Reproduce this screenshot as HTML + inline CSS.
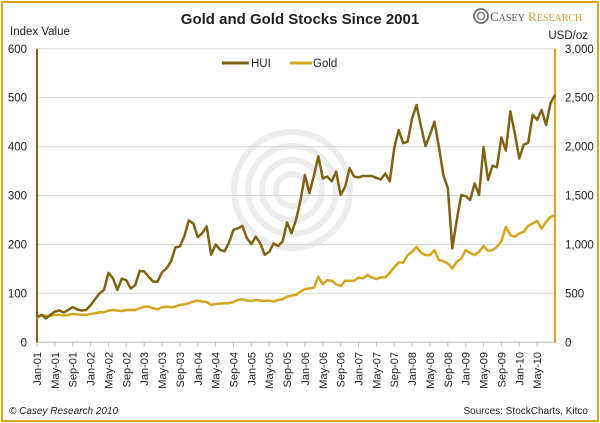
<!DOCTYPE html>
<html><head><meta charset="utf-8"><style>
body{margin:0;background:#fff}
#wrap{position:relative;width:600px;height:423px;overflow:hidden;font-family:"Liberation Sans",sans-serif}
#frame{position:absolute;left:1px;top:1px;width:594px;height:417px;border:2px solid #d4a520}
svg{position:absolute;left:0;top:0;font-family:"Liberation Sans",sans-serif}
</style></head><body>
<div id="wrap">
<div id="frame"></div>
<svg id="c" width="600" height="423"></svg>
<svg width="600" height="423" style="pointer-events:none">
<text x="300" y="24" text-anchor="middle" font-size="15" font-weight="bold" fill="#222">Gold and Gold Stocks Since 2001</text>
<g>
<circle cx="481" cy="16" r="7" fill="none" stroke="#777" stroke-width="2"/><circle cx="481" cy="16" r="3.5" fill="none" stroke="#777" stroke-width="1.5"/>
<text x="490" y="21" font-family="Liberation Serif,serif" font-size="13" fill="#555">C<tspan font-size="10">ASEY</tspan> <tspan fill="#c8a032">R</tspan><tspan fill="#c8a032" font-size="10">ESEARCH</tspan></text>
</g>
<text x="10" y="35" font-size="11.5" fill="#222">Index Value</text>
<text x="588" y="39" text-anchor="end" font-size="11.5" fill="#222">USD/oz</text>
<g><line x1="222" x2="249" y1="63" y2="63" stroke="#7f6315" stroke-width="3"/><text x="251" y="67" font-size="11.5" fill="#222">HUI</text></g>
<g><line x1="290" x2="312" y1="63" y2="63" stroke="#d4a520" stroke-width="3"/><text x="313" y="67" font-size="11.5" fill="#222">Gold</text></g>
<text x="9" y="414" font-size="10" font-style="italic" fill="#222">© Casey Research 2010</text>
<text x="588" y="414" text-anchor="end" font-size="10" fill="#222">Sources: StockCharts, Kitco</text>
</svg>
</div>
<script>
const hui=[52,56,49,56,63,65,61,66,72,67,65,66,76,88,100,107,142,131,107,130,127,110,117,146,145,134,124,124,143,151,165,194,196,217,249,243,215,223,237,179,200,189,186,204,230,233,238,213,201,216,202,179,185,202,197,206,245,223,250,290,342,305,340,380,335,339,329,349,301,318,356,339,337,340,340,340,336,333,345,329,397,434,407,410,458,485,441,401,424,451,400,342,315,192,250,301,299,291,325,301,399,332,361,358,419,392,472,427,376,404,408,465,455,475,444,489,506];
const gold=[245,280,270,270,280,280,273,280,290,286,280,280,290,297,307,307,324,330,324,320,330,330,330,348,365,365,348,337,358,365,358,365,382,389,399,416,426,416,412,382,392,395,399,399,412,433,440,426,423,433,426,423,426,416,433,440,467,477,484,518,545,551,558,670,592,636,629,592,575,629,629,629,663,653,687,663,646,663,663,711,765,816,813,891,925,976,915,891,891,942,840,830,806,755,823,857,942,915,891,925,983,935,942,976,1034,1180,1095,1078,1112,1129,1190,1214,1241,1163,1231,1282,1299];
const leftTicks=[0,100,200,300,400,500,600];
const rightTicks=["0","500","1,000","1,500","2,000","2,500","3,000"];
const monthNames=["Jan","May","Sep"];
const svg=document.getElementById('c');const NS='http://www.w3.org/2000/svg';
const X0=37,X1=555,Y0=342.3,Y1=48.8;
const xs=i=>X0+i*(X1-X0)/(hui.length-1);
const yl=v=>Y0-v*(Y0-Y1)/600;
const yr=v=>Y0-v*(Y0-Y1)/3000;
function el(t,a,txt){const e=document.createElementNS(NS,t);for(const k in a)e.setAttribute(k,a[k]);if(txt!=null)e.textContent=txt;svg.appendChild(e);return e;}
[58,44,30,16].forEach(r=>{const c=el('circle',{cx:292,cy:190,r:r,fill:'none',stroke:'#ececec','stroke-width':6});

});
leftTicks.forEach((v,i)=>{
 const g=el('line',{x1:X0,x2:X1,y1:yl(v),y2:yl(v),stroke:i?'#d9d9d9':'#bbb','stroke-width':1});
 
 
 const t=el('text',{x:27,y:yl(v)+4,'text-anchor':'end','font-size':11.5,fill:'#222'},v);
 
 
 const t2=el('text',{x:565,y:yl(v)+4,'text-anchor':'start','font-size':11.5,fill:'#222'},rightTicks[i]);
 
 
});
for(let i=0;i<hui.length-1;i+=4){
 const yr2=(1+Math.floor(i/12)).toString().padStart(2,'0');
 const x=xs(i);
 const tk=el('line',{x1:x,x2:x,y1:Y0,y2:Y0+4,stroke:'#bbb'});
 
 
 const t=el('text',{x:0,y:0,'text-anchor':'end','font-size':11,fill:'#222',transform:`translate(${x+4},${352}) rotate(-90)`},monthNames[(i%12)/4]+'-'+yr2);
 
 
}
const la=el('line',{x1:X0,x2:X0,y1:Y1,y2:Y0,stroke:'#7f6315','stroke-width':2});


const ra=el('line',{x1:X1,x2:X1,y1:Y1,y2:Y0,stroke:'#d4a520','stroke-width':2});


const gp=el('polyline',{points:gold.map((v,i)=>xs(i)+','+yr(v)).join(' '),fill:'none',stroke:'#d4a520','stroke-width':2.5,'stroke-linejoin':'round'});


const hp=el('polyline',{points:hui.map((v,i)=>xs(i)+','+yl(v)).join(' '),fill:'none',stroke:'#7f6315','stroke-width':2.5,'stroke-linejoin':'round'});


</script>
</body></html>
